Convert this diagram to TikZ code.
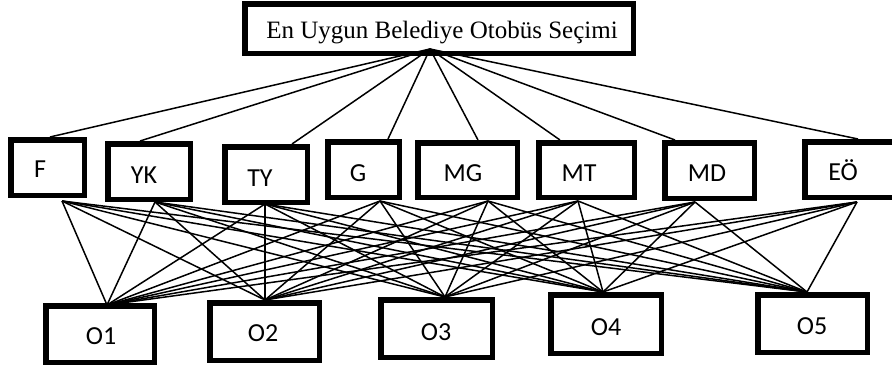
\documentclass[tikz,border=0pt]{standalone}
\usepackage{fontspec}
\setmainfont{Liberation Serif}
\newfontfamily\calibfont{Carlito}
\begin{document}
\begin{tikzpicture}[x=1pt,y=-1pt,
  box/.style={draw,line width=5.5pt,rectangle,inner sep=0pt,outer sep=0pt},
  topbox/.style={draw,line width=5.5pt,rectangle,inner sep=0pt,outer sep=0pt},
  lab/.style={anchor=base,inner sep=0pt,font=\calibfont\fontsize{26}{30}\selectfont},
  toplab/.style={anchor=base,inner sep=0pt,font=\fontsize{25}{30}\selectfont},
  link/.style={line width=1.5pt}]
\clip (0,0) rectangle (892,367);
\useasboundingbox (0,0) rectangle (892,367);
% top box
\node[topbox,minimum width=388.5,minimum height=49.5] (goal) at (439,28.5) {};
\node[toplab] (goaltxt) at (442,38.3) {En Uygun Belediye Otobüs Seçimi};
\coordinate (apex) at (430,49);
% criteria boxes (outer x1,x2,y1,y2)
\foreach \n/\xa/\xb/\ya/\yb in {F/8/87/137/198, YK/105/193/141/202, TY/222/310/144/205, G/325/402/139/200, MG/415/520/140/200, MT/536/637/140/200, MD/662/757/140/201, EO/802/900/139/200}{
  \node[box,minimum width=\xb-\xa-5.5,minimum height=\yb-\ya-5.5] (\n) at ({(\xa+\xb)/2},{(\ya+\yb)/2}) {};
}
\node[lab] (tF) at (40,177.5) {F};
\node[lab] (tYK) at (144,183.5) {YK};
\node[lab] (tTY) at (260,186.5) {TY};
\node[lab] (tG) at (358,181.5) {G};
\node[lab] (tMG) at (463,181.5) {MG};
\node[lab] (tMT) at (579,181.5) {MT};
\node[lab] (tMD) at (707,181.5) {MD};
\node[lab] (tEO) at (843,180.5) {EÖ};
% alternative boxes
\foreach \n/\xa/\xb/\ya/\yb in {O1/43/157/303/365, O2/207/322/300/363, O3/378/495/297/360, O4/548/664/292/356, O5/755/870/292/355}{
  \node[box,minimum width=\xb-\xa-5.5,minimum height=\yb-\ya-5.5] (\n) at ({(\xa+\xb)/2},{(\ya+\yb)/2}) {};
}
\node[lab] (tO1) at (101,344.5) {O1};
\node[lab] (tO2) at (263,341.5) {O2};
\node[lab] (tO3) at (436,340.5) {O3};
\node[lab] (tO4) at (606,335.5) {O4};
\node[lab] (tO5) at (812,334.5) {O5};
% attachment points
\coordinate (Ft) at (50,137);  \coordinate (Fb) at (62,201);
\coordinate (YKt) at (140,141); \coordinate (YKb) at (155,202);
\coordinate (TYt) at (292,144); \coordinate (TYb) at (265,204);
\coordinate (Gt) at (388,139);  \coordinate (Gb) at (380,201);
\coordinate (MGt) at (478,140); \coordinate (MGb) at (488,201);
\coordinate (MTt) at (560,140); \coordinate (MTb) at (578,201);
\coordinate (MDt) at (675,140); \coordinate (MDb) at (695,202);
\coordinate (EOt) at (858,139); \coordinate (EOb) at (857,202);
\coordinate (O1t) at (107,305);
\coordinate (O2t) at (265,300);
\coordinate (O3t) at (445,297);
\coordinate (O4t) at (603,292);
\coordinate (O5t) at (807,292);
\foreach \c in {F,YK,TY,G,MG,MT,MD,EO}{
  \draw[link] (apex) -- (\c t);
  \foreach \o in {O1,O2,O3,O4,O5}{
    \draw[link] (\c b) -- (\o t);
  }
}
\end{tikzpicture}
\end{document}
